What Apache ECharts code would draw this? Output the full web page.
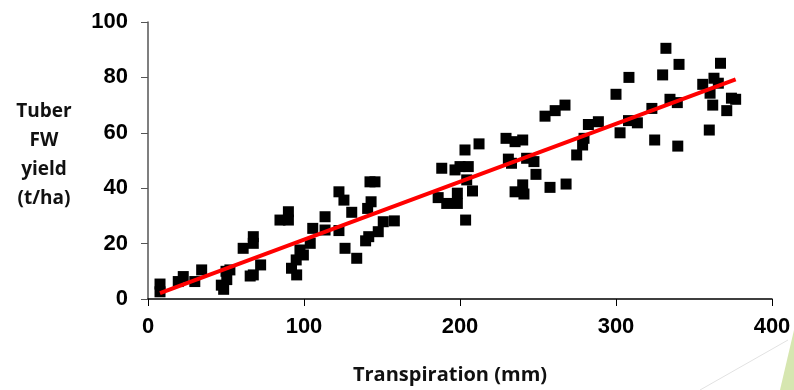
<!DOCTYPE html>
<html>
<head>
<meta charset="utf-8">
<script src="https://cdn.jsdelivr.net/npm/echarts@6/dist/echarts.min.js"></script>
<style>
  html, body { margin: 0; padding: 0; background: #fff; }
  #main { width: 794px; height: 390px; }
</style>
</head>
<body>
<div id="main"></div>
<script>
// transpiration (mm)
var transpiration = [
    7.7, 7.7, 19.4, 22.6, 30, 34.4, 47, 48.5, 50.5, 50, 52.5,
    61, 67.5, 67.5, 67.5, 65.5, 72.2,
    84.6, 90, 90,
    92, 95.3, 95, 97.4, 99.6, 104, 105.6,
    113.5, 113.5,
    122.4, 125.6, 130.6, 122.4, 126.3, 133.8,
    142.3, 145.5, 143, 140.8, 139.5, 141.5,
    150.8, 147.6, 157.9,
    188.3, 196.8, 200, 205.3, 203.2, 212.2, 204.3, 208, 186, 191.5, 198.3, 198.3, 203.6,
    229.5, 235.3, 240.2, 231, 233, 242.7, 247.4, 248.7, 240.2, 235.3, 241, 257.7,
    254.5, 261, 267.3, 268,
    274.8, 278.6, 279.5, 282.3, 288.7, 300, 302.6, 308, 313.7, 308.3,
    323, 324.8, 329.9, 332, 334.6, 339.3, 339.6, 340.4,
    355.6, 359.8, 360.3, 362, 362.8, 365.6, 367, 371, 374, 376.7
];
// tuber fresh weight yield (t/ha)
var tuberYield = [
    5.4, 2.6, 6.3, 8.1, 6.3, 10.5, 5, 3.5, 7, 10, 10.5,
    18.3, 22.5, 20.1, 8.7, 8.3, 12.3,
    28.5, 31.5, 28.5,
    11.1, 8.7, 14.1, 17.7, 15.9, 20.1, 25.5,
    29.7, 24.9,
    38.7, 35.7, 31.3, 24.7, 18.3, 14.7,
    42.3, 42.3, 35.1, 32.7, 21, 22.5,
    27.9, 24.3, 28.2,
    47.2, 46.6, 47.8, 47.8, 53.8, 56, 43, 39, 36.6, 34.5, 38.2, 34.5, 28.5,
    58, 56.8, 57.4, 50.5, 49, 50.8, 49.6, 45, 41.2, 38.7, 37.9, 40.3,
    66, 68, 70, 41.5,
    52, 55.6, 58, 63, 64, 73.9, 60, 64.4, 63.6, 80,
    68.8, 57.4, 80.9, 90.5, 72.1, 70.9, 55.2, 84.7,
    77.5, 61, 74.3, 70, 79.7, 77.9, 85.1, 68, 72.5, 72.1
];
// trend line end points
var trendX = [7.7, 376.7];
var trendY = [2.1, 79.3];

var xTicks = [0, 100, 200, 300, 400];
var yTicks = [0, 20, 40, 60, 80, 100];

var points = transpiration.map(function (x, i) { return [x, tuberYield[i]]; });
var trend = trendX.map(function (x, i) { return [x, trendY[i]]; });

var myChart = echarts.init(document.getElementById('main'));

var labelFont = {
    color: '#000',
    fontFamily: 'Liberation Sans, Arial, sans-serif',
    fontWeight: 'bold',
    fontSize: 22
};

myChart.setOption({
    animation: false,
    grid: { left: 148, right: 22, top: 22, bottom: 91 },
    xAxis: {
        type: 'value',
        min: xTicks[0],
        max: xTicks[xTicks.length - 1],
        interval: 100,
        splitLine: { show: false },
        axisLine: { lineStyle: { color: '#000', width: 1.5 } },
        axisTick: { show: true, length: 7, lineStyle: { color: '#000' } },
        axisLabel: Object.assign({ margin: 17 }, labelFont),
        name: 'Transpiration (mm)',
        nameLocation: 'middle',
        nameGap: 66,
        nameTextStyle: {
            color: '#111',
            fontFamily: 'Open Sans, sans-serif',
            fontWeight: 'bold',
            fontSize: 20,
            padding: [0, 20, 0, 0]
        }
    },
    yAxis: {
        type: 'value',
        min: yTicks[0],
        max: yTicks[yTicks.length - 1],
        interval: 20,
        splitLine: { show: false },
        axisLine: { show: true, lineStyle: { color: '#555', width: 1.5 } },
        axisTick: { show: true, length: 7, lineStyle: { color: '#555' } },
        axisLabel: Object.assign({ margin: 20 }, labelFont)
    },
    graphic: [
        {
            type: 'text',
            x: 44, y: 97,
            style: {
                text: 'Tuber\nFW\nyield\n(t/ha)',
                fill: '#111',
                font: 'bold 19px "Open Sans", sans-serif',
                lineHeight: 29,
                align: 'center',
                verticalAlign: 'top'
            }
        },
        {
            type: 'polygon',
            silent: true,
            shape: { points: [[780, 390], [794, 330], [794, 390]] },
            style: { fill: '#d6e6b0' }
        },
        {
            type: 'line',
            silent: true,
            shape: { x1: 700, y1: 390, x2: 788, y2: 340 },
            style: { stroke: '#e2e2e2', lineWidth: 1 }
        }
    ],
    series: [
        {
            name: 'observed',
            type: 'scatter',
            symbol: 'rect',
            symbolSize: 11,
            itemStyle: { color: '#000', opacity: 1 },
            data: points,
            z: 2
        },
        {
            name: 'trend',
            type: 'line',
            symbol: 'none',
            lineStyle: { color: '#ff0000', width: 4 },
            data: trend,
            z: 3
        }
    ]
});
</script>
</body>
</html>
